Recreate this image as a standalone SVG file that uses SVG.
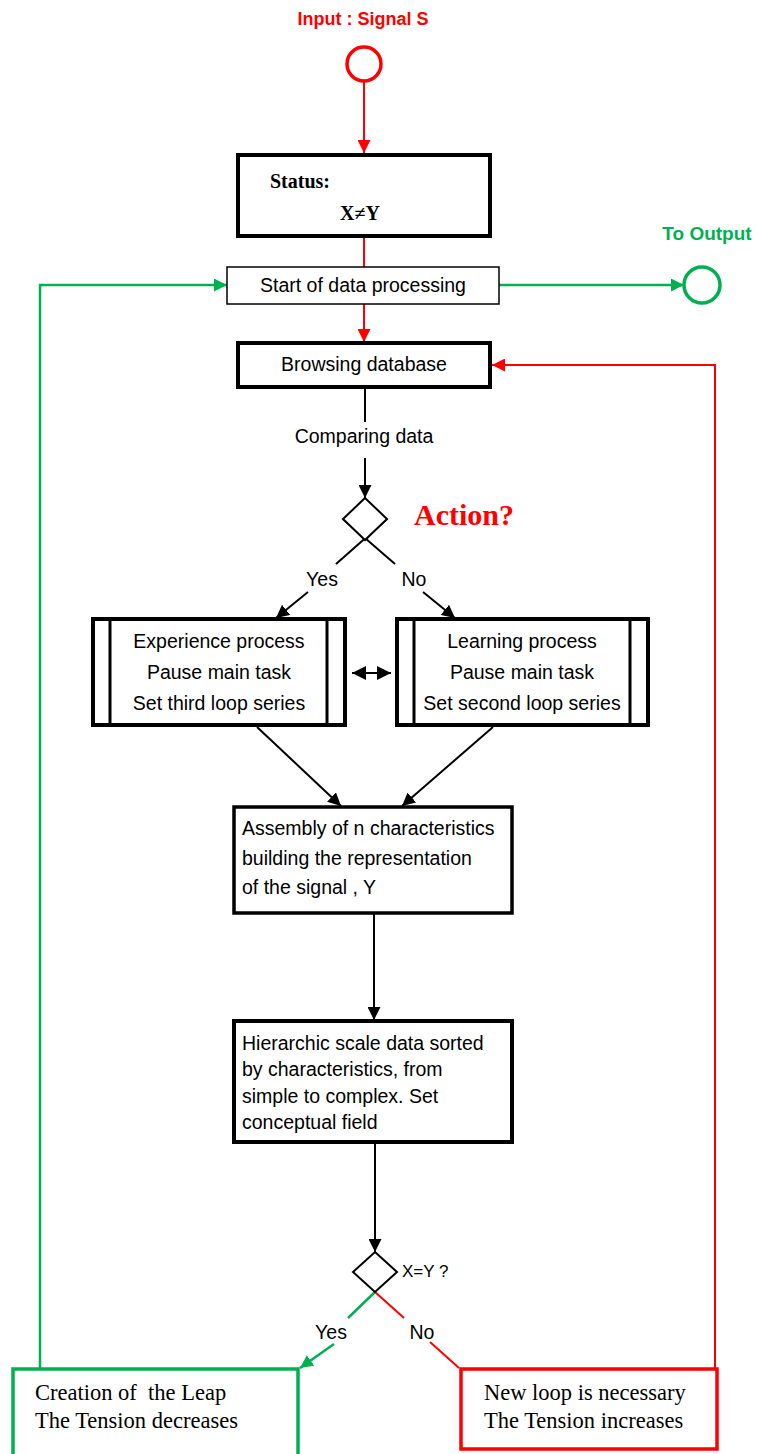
<svg xmlns="http://www.w3.org/2000/svg" width="758" height="1454" viewBox="0 0 758 1454">
<style>
.bg{fill:#fff}
.box{fill:#fff;stroke:#000}
.thick{stroke-width:4}
.thin{stroke-width:1.5}
.t{font-family:"Liberation Sans",Arial,sans-serif;font-size:19.5px;fill:#000}
.tc{text-anchor:middle}
.ser{font-family:"Liberation Serif","Times New Roman",serif;font-size:22.5px;fill:#000;white-space:pre}
.lr{stroke:#f00;stroke-width:2;fill:none}
.lg{stroke:#00b050;stroke-width:2.5;fill:none}
.lk{stroke:#000;stroke-width:2;fill:none}
</style>
<defs>
<marker id="ak" viewBox="0 0 10 10" refX="10" refY="5" markerWidth="13" markerHeight="13" markerUnits="userSpaceOnUse" orient="auto"><path d="M0,0 L10,5 L0,10 z" fill="#000"/></marker>
<marker id="ak2" viewBox="0 0 10 10" refX="10" refY="5" markerWidth="14" markerHeight="14" markerUnits="userSpaceOnUse" orient="auto-start-reverse"><path d="M0,0 L10,5 L0,10 z" fill="#000"/></marker>
<marker id="ar" viewBox="0 0 10 10" refX="10" refY="5" markerWidth="13" markerHeight="13" markerUnits="userSpaceOnUse" orient="auto"><path d="M0,0 L10,5 L0,10 z" fill="#f00"/></marker>
<marker id="ag" viewBox="0 0 10 10" refX="10" refY="5" markerWidth="13" markerHeight="13" markerUnits="userSpaceOnUse" orient="auto"><path d="M0,0 L10,5 L0,10 z" fill="#00b050"/></marker>
</defs>
<rect class="bg" x="0" y="0" width="758" height="1454"/>

<g id="connectors">
<line class="lr" x1="364" y1="81" x2="364" y2="153" marker-end="url(#ar)"/>
<line class="lr" x1="364" y1="237" x2="364" y2="267"/>
<line class="lr" x1="364" y1="304" x2="364" y2="342" marker-end="url(#ar)"/>
<polyline class="lg" points="40,1368 40,285 227,285" marker-end="url(#ag)"/>
<line class="lg" x1="499" y1="285" x2="684" y2="285" marker-end="url(#ag)"/>
<polyline class="lr" points="715,1368 715,365 492,365" marker-end="url(#ar)"/>
<line class="lk" x1="365" y1="388" x2="365" y2="422"/>
<line class="lk" x1="365" y1="458" x2="365" y2="498" marker-end="url(#ak)"/>
<line class="lk" x1="343" y1="519" x2="395" y2="564"/>
<line class="lk" x1="387" y1="519" x2="336" y2="564"/>
<line class="lk" x1="308" y1="592" x2="276" y2="618" marker-end="url(#ak)"/>
<line class="lk" x1="423" y1="592" x2="455" y2="618" marker-end="url(#ak)"/>
<line class="lk" x1="352" y1="673" x2="391" y2="673" marker-start="url(#ak2)" marker-end="url(#ak2)"/>
<line class="lk" x1="257" y1="727" x2="341" y2="806" marker-end="url(#ak)"/>
<line class="lk" x1="493" y1="727" x2="402" y2="806" marker-end="url(#ak)"/>
<line class="lk" x1="374" y1="913" x2="374" y2="1020" marker-end="url(#ak)"/>
<line class="lk" x1="375" y1="1143" x2="375" y2="1252" marker-end="url(#ak)"/>
<line class="lg" x1="375" y1="1292" x2="348" y2="1318"/>
<line class="lg" x1="334" y1="1344" x2="300" y2="1368" marker-end="url(#ag)"/>
<line class="lr" x1="375" y1="1292" x2="404" y2="1318"/>
<line class="lr" x1="430" y1="1342" x2="459" y2="1368"/>
</g>

<g id="input">
<text x="363" y="25" text-anchor="middle" style="font-family:'Liberation Sans',Arial,sans-serif;font-weight:bold;font-size:18px;fill:#f00">Input : Signal S</text>
<circle cx="364" cy="64" r="17" fill="#fff" stroke="#f00" stroke-width="3.5"/>
</g>

<g id="status">
<rect class="box thick" x="238" y="155" width="252" height="81"/>
<text x="270" y="188" style="font-family:'Liberation Serif','Times New Roman',serif;font-weight:bold;font-size:20px">Status:</text>
<text x="360" y="220" text-anchor="middle" style="font-family:'Liberation Serif','Times New Roman',serif;font-weight:bold;font-size:20px">X≠Y</text>
</g>

<g id="start">
<rect class="box thin" x="227" y="267" width="272" height="37"/>
<text class="t tc" x="363" y="292">Start of data processing</text>
</g>

<g id="output">
<text x="707" y="240" text-anchor="middle" style="font-family:'Liberation Sans',Arial,sans-serif;font-weight:bold;font-size:19px;fill:#00b050">To Output</text>
<circle cx="702" cy="285" r="18" fill="#fff" stroke="#00b050" stroke-width="3.5"/>
</g>

<g id="browsing">
<rect class="box thick" x="238" y="343" width="252" height="44"/>
<text class="t tc" x="364" y="371">Browsing database</text>
</g>

<g id="comparing">
<text class="t tc" x="364" y="443">Comparing data</text>
</g>

<g id="action">
<path d="M365,498 L387,519 L365,540 L343,519 Z" fill="#fff" stroke="#000" stroke-width="2"/>
<text x="414" y="525" style="font-family:'Liberation Serif','Times New Roman',serif;font-weight:bold;font-size:30px;fill:#f00">Action?</text>
<text class="t" x="322" y="586" text-anchor="middle">Yes</text>
<text class="t" x="414" y="586" text-anchor="middle">No</text>
</g>

<g id="experience">
<rect class="box thick" x="93" y="619" width="252" height="106"/>
<line x1="110" y1="619" x2="110" y2="725" stroke="#000" stroke-width="3"/>
<line x1="327" y1="619" x2="327" y2="725" stroke="#000" stroke-width="3"/>
<text class="t tc" x="219" y="648">Experience process</text>
<text class="t tc" x="219" y="679">Pause main task</text>
<text class="t tc" x="219" y="710">Set third loop series</text>
</g>

<g id="learning">
<rect class="box thick" x="397" y="619" width="251" height="106"/>
<line x1="414" y1="619" x2="414" y2="725" stroke="#000" stroke-width="3"/>
<line x1="630" y1="619" x2="630" y2="725" stroke="#000" stroke-width="3"/>
<text class="t tc" x="522" y="648">Learning process</text>
<text class="t tc" x="522" y="679">Pause main task</text>
<text class="t tc" x="522" y="710">Set second loop series</text>
</g>

<g id="assembly">
<rect class="box" stroke-width="3.5" x="234" y="807" width="278" height="106"/>
<text class="t" x="242" y="835">Assembly of n characteristics</text>
<text class="t" x="242" y="865">building the representation</text>
<text class="t" x="242" y="894">of the signal , Y</text>
</g>

<g id="hierarchic">
<rect class="box thick" x="234" y="1021" width="278" height="121"/>
<text class="t" x="242" y="1050">Hierarchic scale data sorted</text>
<text class="t" x="242" y="1076">by characteristics, from</text>
<text class="t" x="242" y="1103">simple to complex. Set</text>
<text class="t" x="242" y="1129">conceptual field</text>
</g>

<g id="decision2">
<path d="M375,1252 L397,1272 L375,1292 L353,1272 Z" fill="#fff" stroke="#000" stroke-width="2"/>
<text x="402" y="1277" style="font-family:'Liberation Sans',Arial,sans-serif;font-size:17px">X=Y ?</text>
<text class="t" x="331" y="1339" text-anchor="middle">Yes</text>
<text class="t" x="422" y="1339" text-anchor="middle">No</text>
</g>

<g id="leap">
<rect x="13" y="1369" width="285" height="100" fill="#fff" stroke="#00b050" stroke-width="3.5"/>
<text class="ser" x="35" y="1400">Creation of  the Leap</text>
<text class="ser" x="35" y="1428">The Tension decreases</text>
</g>

<g id="newloop">
<rect x="461" y="1369" width="256" height="80" fill="#fff" stroke="#f00" stroke-width="3.5"/>
<text class="ser" x="484" y="1400">New loop is necessary</text>
<text class="ser" x="484" y="1428">The Tension increases</text>
</g>
</svg>
